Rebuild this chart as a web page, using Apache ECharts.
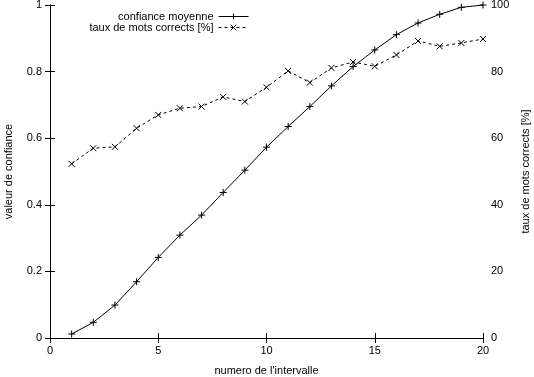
<!DOCTYPE html>
<html>
<head>
<meta charset="utf-8">
<script src="https://cdn.jsdelivr.net/npm/echarts@6/dist/echarts.min.js"></script>
<style>
html,body{margin:0;padding:0;background:#fff;}
#main{width:534px;height:377px;}
</style>
</head>
<body>
<div id="main"></div>
<script>
var intervals = [1,2,3,4,5,6,7,8,9,10,11,12,13,14,15,16,17,18,19,20];
var confiance = [0.012,0.047,0.099,0.169,0.242,0.309,0.369,0.437,0.504,0.573,0.635,0.695,0.757,0.815,0.865,0.911,0.946,0.972,0.993,1.0];
var tauxCorrects = [52.3,57.0,57.4,63.0,67.0,69.0,69.5,72.4,71.0,75.3,80.2,76.7,81.1,82.9,81.6,85.0,89.2,87.6,88.6,89.8];

var FONT = "Liberation Sans";
var PLUS = 'path://M0,-1L0,1M-1,0L1,0';
var CROSS = 'path://M-1,-1L1,1M-1,1L1,-1';

var pairs = function(xs, ys){
	var arr = [];
	for (var i = 0; i < xs.length; i++) {
		arr.push([xs[i], ys[i]]);
	}
	return arr;
};

var axisBase = function(){
	return {
		axisLine: {show: true, lineStyle: {color: '#000', width: 1}},
		axisTick: {show: true, inside: true, length: 5, lineStyle: {color: '#000'}},
		axisLabel: {color: '#000', fontFamily: FONT, fontSize: 11, margin: 8},
		splitLine: {show: false}
	};
};

var xb = axisBase();
xb.type = 'value'; xb.min = 0; xb.max = 20; xb.interval = 5; xb.position = 'bottom';
xb.name = "numero de l'intervalle"; xb.nameLocation = 'middle'; xb.nameGap = 27;
xb.nameTextStyle = {color: '#000', fontFamily: FONT, fontSize: 11};
xb.axisLabel.margin = 7;

var xt = axisBase();
xt.type = 'value'; xt.min = 0; xt.max = 20; xt.interval = 5; xt.position = 'top';
xt.axisLabel = {show: false};

var yl = axisBase();
yl.type = 'value'; yl.min = 0; yl.max = 1; yl.interval = 0.2; yl.position = 'left';
yl.name = 'valeur de confiance'; yl.nameLocation = 'middle'; yl.nameGap = 36; yl.nameRotate = 90;
yl.nameTextStyle = {color: '#000', fontFamily: FONT, fontSize: 11};

var yr = axisBase();
yr.type = 'value'; yr.min = 0; yr.max = 100; yr.interval = 20; yr.position = 'right';
yr.name = 'taux de mots corrects [%]'; yr.nameLocation = 'middle'; yr.nameGap = 36; yr.nameRotate = 90;
yr.nameTextStyle = {color: '#000', fontFamily: FONT, fontSize: 11};

var legendText = {color: '#000', fontFamily: FONT, fontSize: 11};
var legendBase = function(name, top){
	return {
		data: [name], right: 285, top: top, align: 'right', padding: 0,
		itemWidth: 30, itemHeight: 7, itemGap: 2,
		textStyle: legendText,
		lineStyle: {width: 1},
		itemStyle: {borderWidth: 1}
	};
};

var option = {
	animation: false,
	backgroundColor: '#fff',
	grid: {left: 50, right: 51, top: 5, bottom: 39, outerBoundsMode: 'none', containLabel: false},
	legend: [
		legendBase('confiance moyenne', 11),
		legendBase('taux de mots corrects [%]', 22)
	],
	xAxis: [xb, xt],
	yAxis: [yl, yr],
	series: [
		{
			name: 'confiance moyenne', type: 'line', xAxisIndex: 0, yAxisIndex: 0,
			data: pairs(intervals, confiance),
			symbol: PLUS, symbolSize: 7, showSymbol: true,
			lineStyle: {color: '#000', width: 1, type: 'solid'},
			itemStyle: {color: '#000', borderColor: '#000', borderWidth: 1}
		},
		{
			name: 'taux de mots corrects [%]', type: 'line', xAxisIndex: 0, yAxisIndex: 1,
			data: pairs(intervals, tauxCorrects),
			symbol: CROSS, symbolSize: 6, showSymbol: true,
			lineStyle: {color: '#000', width: 1, type: [3, 3]},
			itemStyle: {color: '#000', borderColor: '#000', borderWidth: 1}
		}
	]
};

var chart = echarts.init(document.getElementById('main'));
chart.setOption(option);
</script>
</body>
</html>
